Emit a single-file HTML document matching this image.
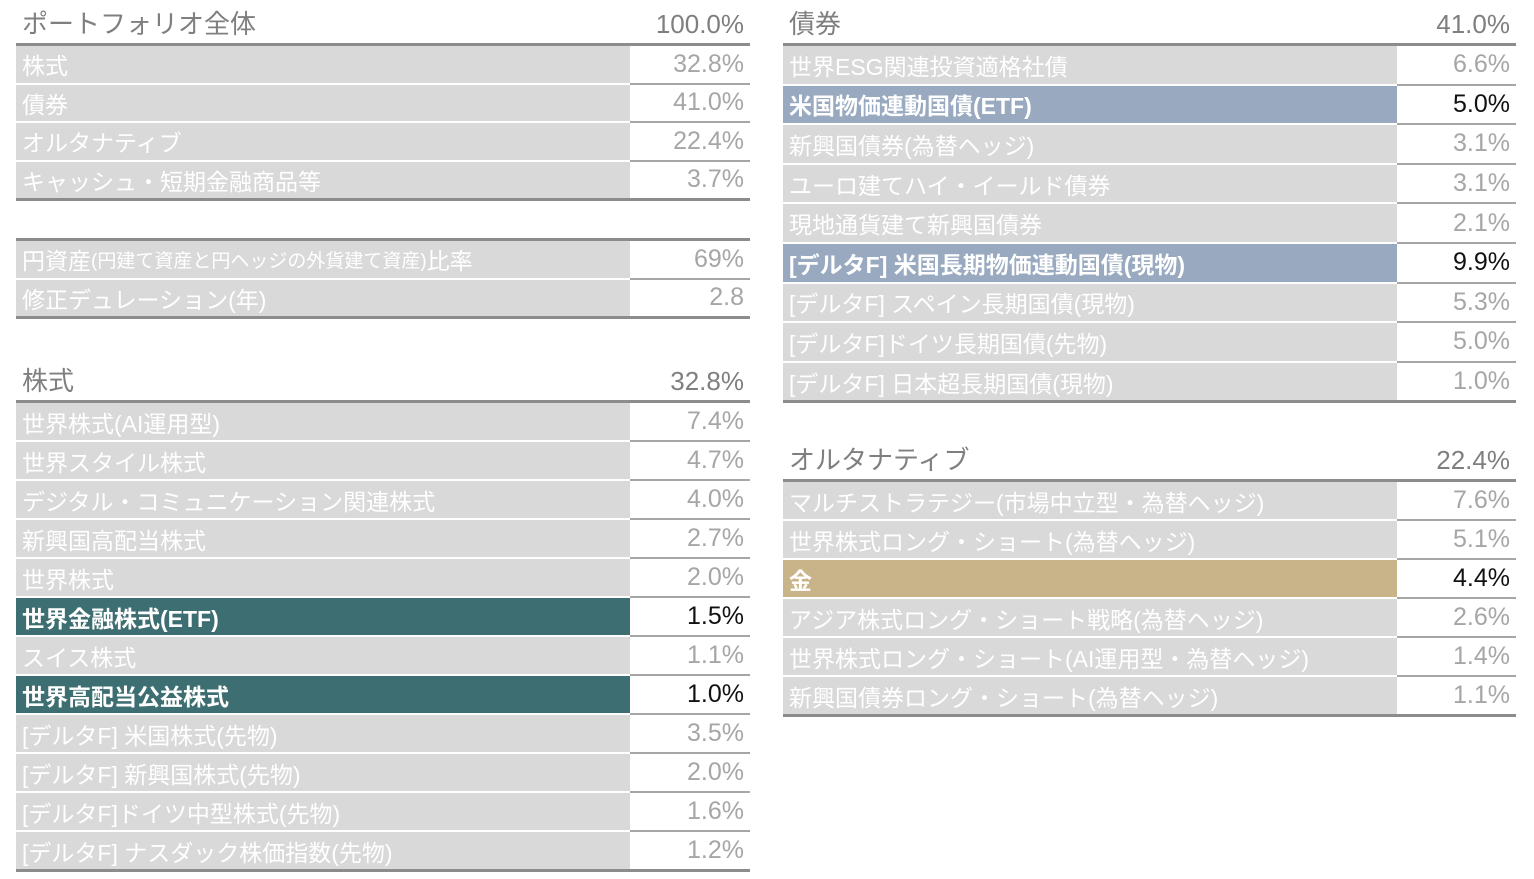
<!DOCTYPE html>
<html><head><meta charset="utf-8">
<style>
body{margin:0;width:1534px;height:879px;background:#fff;position:relative;overflow:hidden;font-family:"Liberation Sans Narrow","Liberation Sans","Noto Sans CJK JP",sans-serif;}
.abs{position:absolute;box-sizing:border-box;white-space:nowrap;}
.lab{background:#d9d9d9;color:#fff;font-size:23px;padding-left:6px;display:flex;align-items:center;}
.val{background:#fff;color:#a6a6a6;font-size:25px;text-align:right;padding-right:6px;display:flex;align-items:center;justify-content:flex-end;border-bottom:2px solid #a6a6a6;}
.hd{color:#7f7f7f;font-size:26px;}
.line{background:#8c8c8c;height:3px;}
.hl .val{color:#111;}
</style></head><body>
<div id="root"></div>
<script>
const sections=[
 {x:16,w:734,split:630,title:"ポートフォリオ全体",total:"100.0%",line:43,start:46,pitch:38.5,rows:[["株式","32.8%"],["債券","41.0%"],["オルタナティブ","22.4%"],["キャッシュ・短期金融商品等","3.7%"]]},
 {x:16,w:734,split:630,title:null,total:null,line:238,start:241,pitch:38.5,rows:[["円資産<span style='font-size:19px'>(円建て資産と円ヘッジの外貨建て資産)</span>比率","69%"],["修正デュレーション(年)","2.8"]]},
 {x:16,w:734,split:630,title:"株式",total:"32.8%",line:400,start:403,pitch:39,rows:[["世界株式(AI運用型)","7.4%"],["世界スタイル株式","4.7%"],["デジタル・コミュニケーション関連株式","4.0%"],["新興国高配当株式","2.7%"],["世界株式","2.0%"],["世界金融株式(ETF)","1.5%","#3d6e72"],["スイス株式","1.1%"],["世界高配当公益株式","1.0%","#3d6e72"],["[デルタF] 米国株式(先物)","3.5%"],["[デルタF] 新興国株式(先物)","2.0%"],["[デルタF]ドイツ中型株式(先物)","1.6%"],["[デルタF] ナスダック株価指数(先物)","1.2%"]]},
 {x:783,w:733,split:1397,title:"債券",total:"41.0%",line:43,start:46,pitch:39.6,rows:[["世界ESG関連投資適格社債","6.6%"],["米国物価連動国債(ETF)","5.0%","#98a9c0"],["新興国債券(為替ヘッジ)","3.1%"],["ユーロ建てハイ・イールド債券","3.1%"],["現地通貨建て新興国債券","2.1%"],["[デルタF] 米国長期物価連動国債(現物)","9.9%","#98a9c0"],["[デルタF] スペイン長期国債(現物)","5.3%"],["[デルタF]ドイツ長期国債(先物)","5.0%"],["[デルタF] 日本超長期国債(現物)","1.0%"]]},
 {x:783,w:733,split:1397,title:"オルタナティブ",total:"22.4%",line:479,start:482,pitch:39,rows:[["マルチストラテジー(市場中立型・為替ヘッジ)","7.6%"],["世界株式ロング・ショート(為替ヘッジ)","5.1%"],["金","4.4%","#c9b48a"],["アジア株式ロング・ショート戦略(為替ヘッジ)","2.6%"],["世界株式ロング・ショート(AI運用型・為替ヘッジ)","1.4%"],["新興国債券ロング・ショート(為替ヘッジ)","1.1%"]]}
];
const root=document.getElementById('root');
sections.forEach((s,si)=>{
  if(s.title){
    const t=document.createElement('div');t.className='abs hd';
    
    
    t.style.cssText=`left:${s.x+6}px;top:${s.line-37}px;height:36px;line-height:36px;`;t.textContent=s.title;root.appendChild(t);
    const v=document.createElement('div');v.className='abs hd';
    
    
    v.style.cssText=`left:${s.split}px;width:${s.x+s.w-s.split-6}px;text-align:right;top:${s.line-37}px;height:36px;line-height:36px;`;v.textContent=s.total;root.appendChild(v);
  }
  const l=document.createElement('div');l.className='abs line';
  
  
  l.style.cssText=`left:${s.x}px;width:${s.w}px;top:${s.line}px;`;root.appendChild(l);
  s.rows.forEach((r,i)=>{
    const y=s.start+i*s.pitch,h=s.pitch-2;
    const row=document.createElement('div');
    
    
    if(r[2])row.className='hl';
    const a=document.createElement('div');a.className='abs lab';
    
    
    a.style.cssText=`left:${s.x}px;width:${s.split-s.x}px;top:${y}px;height:${h}px;`+(r[2]?`background:${r[2]};font-weight:bold;`:'');
    a.innerHTML=r[0];row.appendChild(a);
    const b=document.createElement('div');b.className='abs val';
    
    
    b.style.cssText=`left:${s.split}px;width:${s.x+s.w-s.split}px;top:${y}px;height:${s.pitch}px;`+(r[2]?'color:#111;':'');
    b.textContent=r[1];row.appendChild(b);
    root.appendChild(row);
  });
  const lastY=s.start+s.rows.length*s.pitch-2;
  const e=document.createElement('div');e.className='abs line';
  
  
  e.style.cssText=`left:${s.x}px;width:${s.w}px;top:${lastY}px;`;root.appendChild(e);
});
</script>
</body></html>
